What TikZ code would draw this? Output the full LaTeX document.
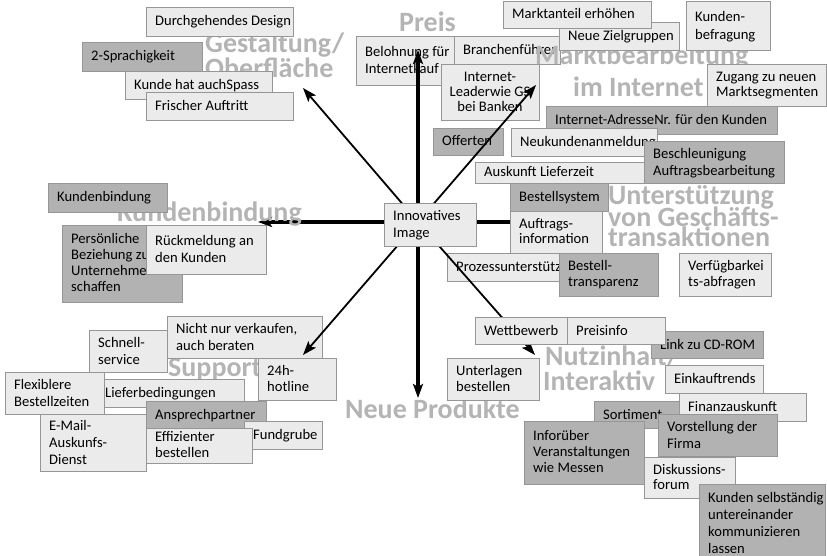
\documentclass[tikz,border=0pt]{standalone}
\usepackage{fontspec}
\setmainfont{Carlito}
\usetikzlibrary{arrows.meta}
\definecolor{lightfill}{RGB}{235,235,235}
\definecolor{darkfill}{RGB}{178,178,178}
\definecolor{edgegray}{RGB}{150,150,150}
\definecolor{labgray}{RGB}{180,180,180}
\newcommand\tbx[8][16.5]{%
  \node[boxbase,#7,minimum width=#5pt,minimum height=#6pt,anchor=north west] (#2) at (#3,#4) {};%
  \node[boxtext,font=\fontsize{14.6}{#1}\selectfont,anchor=west,align=left] (#2-t) at ([xshift=9pt,yshift=-1.2pt]#2.west) {\strut#8\strut};}
\newcommand\tbxc[8][16.5]{%
  \node[boxbase,#7,minimum width=#5pt,minimum height=#6pt,anchor=north west] (#2) at (#3,#4) {};%
  \node[boxtext,font=\fontsize{14.6}{#1}\selectfont,anchor=center,align=center] (#2-t) at ([yshift=-1.2pt]#2.center) {\strut#8\strut};}
\begin{document}
\begin{tikzpicture}[x=1pt,y=-1pt,
  boxbase/.style={draw=edgegray,line width=0.9pt,inner sep=0pt,outer sep=0pt},
  lightbox/.style={fill=lightfill},
  darkbox/.style={fill=darkfill},
  boxtext/.style={inner sep=0pt,text=black},
  catlab/.style={font=\fontsize{28}{28}\selectfont\bfseries,text=labgray,inner sep=0pt,anchor=base west},
  thickarr/.style={line width=3.2pt,-{Stealth[length=14pt,width=10pt,inset=3pt]}},
  thinarr/.style={line width=1.8pt,-{Stealth[length=14pt,width=10pt,inset=3pt]}}]
\useasboundingbox (0,0) rectangle (827,556);
\fill[white] (0,0) rectangle (827,556);

% Gestaltung / Oberflaeche
\node[catlab] (lGest1) at (205,53) {Gestaltung/};
\node[catlab] (lGest2) at (205,78) {Oberfläche};
\tbx{bDesign}{146}{7}{147}{29}{lightbox}{Durchgehendes Design}
\tbx{bSprach}{82}{42}{120}{29}{darkbox}{2-Sprachigkeit}
\tbx{bSpass}{125}{71}{147}{28}{lightbox}{Kunde hat auchSpass}
\tbx{bFrisch}{146}{92}{147}{28}{lightbox}{Frischer Auftritt}

% Preis / Marktbearbeitung
\node[catlab] (lPreis) at (399,32) {Preis};
\tbx[17.5]{bBelohn}{356}{36}{98}{49}{lightbox}{Belohnung für\\Internetkauf}
\tbx{bBranch}{454}{36}{106}{28}{lightbox}{Branchenführer}
\node[catlab] (lMarkt1) at (535,65) {Marktbearbeitung};
\tbx{bZiel}{559}{22}{120}{28}{lightbox}{Neue Zielgruppen}
\tbx{bAnteil}{503}{1}{148}{27}{lightbox}{Marktanteil erhöhen}
\tbx[18]{bBefrag}{686}{1}{84}{49}{lightbox}{Kunden-\\befragung}
\node[catlab] (lMarkt2) at (573,97) {im Internet};
\tbxc[15]{bLeader}{441}{64}{98}{56}{lightbox}{Internet-\\Leaderwie GS\\bei Banken}
\tbx[15]{bZugang}{707}{64}{119}{42}{lightbox}{Zugang zu neuen\\Marktsegmenten}
\tbx{bAdresse}{546}{106}{231}{28}{darkbox}{Internet-AdresseNr. für den Kunden}
\tbx{bOffert}{433}{128}{70}{27}{darkbox}{Offerten}
\tbx{bNeukund}{511}{128}{146}{28}{lightbox}{Neukundenanmeldung}
\tbx{bAuskunft}{475}{162}{175}{21}{lightbox}{Auskunft Lieferzeit}
\tbx[17]{bBeschl}{644}{141}{140}{42}{darkbox}{Beschleunigung\\Auftragsbearbeitung}

% Unterstuetzung
\node[catlab] (lUnter1) at (608,205) {Unterstützung};
\node[catlab] (lUnter2) at (608,226) {von Geschäfts-};
\node[catlab] (lUnter3) at (608,247) {transaktionen};
\tbx{bBestsys}{510}{183}{98}{28}{darkbox}{Bestellsystem}
\tbx{bProzess}{447}{253}{113}{28}{lightbox}{Prozessunterstützung}
\tbx[16]{bTransp}{559}{253}{99}{43}{darkbox}{Bestell-\\transparenz}
\tbx[16]{bVerfueg}{679}{253}{92}{43}{lightbox}{Verfügbarkei\\ts-abfragen}

% Kundenbindung
\tbx[16]{bPersoen}{62}{225}{120}{77}{darkbox}{Persönliche\\Beziehung zu\\Unternehmen\\schaffen}
\tbx[17]{bRueck}{146}{225}{120}{49}{lightbox}{Rückmeldung an\\den Kunden}

% Support
\node[catlab] (lSupport) at (168,376) {Support};
\tbx[17]{bNicht}{167}{316}{155}{42}{lightbox}{Nicht nur verkaufen,\\auch beraten}
\tbx[17]{bSchnell}{89}{330}{78}{42}{lightbox}{Schnell-\\service}
\tbx[16]{bHotline}{258}{358}{78}{42}{lightbox}{24h-\\hotline}
\tbx{bLiefer}{96}{379}{148}{28}{lightbox}{Lieferbedingungen}
\tbx[17]{bFlex}{5}{372}{99}{42}{lightbox}{Flexiblere\\Bestellzeiten}
\tbx{bAnsprech}{146}{401}{120}{27}{darkbox}{Ansprechpartner}
\tbx{bFund}{244}{421}{78}{28}{lightbox}{Fundgrube}
\tbx[17]{bEmail}{40}{414}{106}{57}{lightbox}{E-Mail-\\Auskunfs-\\Dienst}
\tbx[16]{bEffiz}{146}{428}{106}{35}{lightbox}{Effizienter\\bestellen}

% Neue Produkte
\node[catlab] (lNeue) at (345,418) {Neue Produkte};

% Nutzinhalt / Interaktiv
\node[catlab] (lNutz1) at (545,365) {Nutzinhalt/};
\node[catlab] (lNutz2) at (543,390) {Interaktiv};
\tbx{bLink}{651}{331}{112}{27}{darkbox}{Link zu CD-ROM}
\tbx[16]{bUnterl}{447}{358}{92}{42}{lightbox}{Unterlagen\\bestellen}
\tbx{bEinkauf}{665}{365}{98}{28}{lightbox}{Einkauftrends}
\tbx{bSortim}{594}{401}{86}{27}{darkbox}{Sortiment}
\tbx{bFinanz}{679}{393}{127}{28}{lightbox}{Finanzauskunft}
\tbx[16]{bVeranst}{524}{421}{120}{63}{darkbox}{Inforüber\\Veranstaltungen\\wie Messen}
\tbx[17]{bVorst}{658}{414}{119}{42}{darkbox}{Vorstellung der\\Firma}
\tbx[15]{bDiskus}{644}{457}{91}{41}{lightbox}{Diskussions-\\forum}
\tbx[17]{bKunsel}{699}{484}{126}{78}{darkbox}{Kunden selbständig\\untereinander\\kommunizieren\\lassen}

% Arrows from the hub
\coordinate (hub) at (418,222);
\coordinate (tUp) at (418,50);
\coordinate (tDown) at (418,398);
\coordinate (tLeft) at (258,222);
\coordinate (tRight) at (545,222);
\coordinate (tUL) at (303,88);
\coordinate (tUR) at (536,85);
\coordinate (tDL) at (303,355);
\coordinate (tDR) at (535,355);
\draw[thickarr] (hub) -- (tUp);
\draw[thickarr] (hub) -- (tDown);
\draw[thickarr] (hub) -- (tLeft);
\draw[thickarr] (hub) -- (tRight);
\draw[thinarr] (hub) -- (tUL);
\draw[thinarr] (hub) -- (tUR);
\draw[thinarr] (hub) -- (tDL);
\draw[thinarr] (hub) -- (tDR);

% drawn over the arrows
\node[catlab] (lKund) at (117,222) {Kundenbindung};
\tbx{bKbind}{48}{183}{119}{29}{darkbox}{Kundenbindung}
\tbx{bWett}{475}{317}{92}{27}{lightbox}{Wettbewerb}
\tbx{bPreisinfo}{567}{317}{98}{27}{lightbox}{Preisinfo}
\tbx[15]{bAuftrag}{510}{211}{92}{42}{lightbox}{Auftrags-\\information}
\tbx[17]{bCenter}{384}{203}{92}{43}{lightbox}{Innovatives\\Image}
\end{tikzpicture}
\end{document}
